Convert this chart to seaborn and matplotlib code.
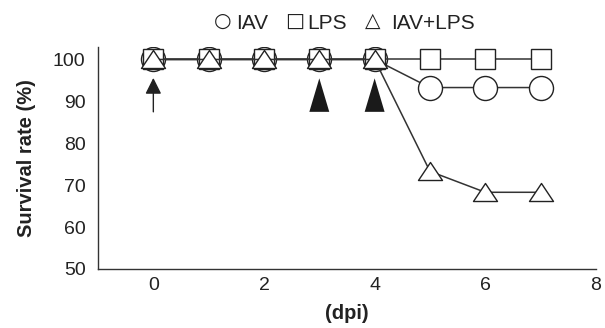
import matplotlib
matplotlib.use("Agg")
import matplotlib.pyplot as plt
from matplotlib.path import Path
import seaborn as sns
import pandas as pd

dpi_days = [0, 1, 2, 3, 4, 5, 6, 7]
iav = [100, 100, 100, 100, 100, 93.3, 93.3, 93.3]
lps = [100, 100, 100, 100, 100, 100, 100, 100]
iav_lps = [100, 100, 100, 100, 100, 73.3, 68.3, 68.3]
x_ticks = [0, 2, 4, 6, 8]
y_ticks = [50, 60, 70, 80, 90, 100]
lps_injection_days = [3, 4]
infection_day = 0
legend_symbols = ["\u25cb", "\u25a1", "\u25b3"]
legend_words = ["IAV", "LPS", "IAV+LPS"]

sns.set_theme(style="white")
plt.rcParams['font.family'] = ['Liberation Sans', 'DejaVu Sans']

W, H = 605, 328
fig = plt.figure(figsize=(6.05, 3.28), dpi=100)
ax = fig.add_axes([0.162, 0.180, 0.823, 0.677])

df = pd.DataFrame({
    "day": dpi_days * 3,
    "survival": iav + lps + iav_lps,
    "group": ["IAV"] * 8 + ["LPS"] * 8 + ["IAV+LPS"] * 8,
})

tri = Path([(0, 0.75), (-1, -0.75), (1, -0.75), (0, 0.75)], closed=True)
styles = {
    "IAV": dict(marker="o", ms=17.3),
    "LPS": dict(marker="s", ms=13.7),
    "IAV+LPS": dict(marker=tri, ms=17.3),
}
for g in ["IAV", "LPS", "IAV+LPS"]:
    sub = df[df.group == g]
    sns.lineplot(data=sub, x="day", y="survival", ax=ax, color="#333333",
                 linewidth=1.1, marker=styles[g]["marker"],
                 markersize=styles[g]["ms"], markerfacecolor="white",
                 markeredgecolor="#222222", markeredgewidth=1.0,
                 legend=False, zorder=3)

# arrow at infection day
ax.annotate("", xy=(infection_day, 95.6), xytext=(infection_day, 87.5),
            arrowprops=dict(arrowstyle="-|>,head_length=0.7,head_width=0.35",
                            color="#222222", lw=1.0,
                            mutation_scale=14, shrinkA=0, shrinkB=0))
# filled triangles at LPS injection days
for d in lps_injection_days:
    ax.fill([d - 0.18, d, d + 0.18], [87.5, 95.5, 87.5], color="#1a1a1a",
            zorder=2, lw=0)

ax.set_xlim(-1, 8)
ax.set_ylim(50, 103)
ax.set_xticks(x_ticks)
ax.set_xticks([1, 3, 5, 7], minor=True)
ax.set_yticks(y_ticks)
ax.tick_params(axis="both", which="both", direction="in", length=12.5,
               width=1.0, color="#333333", labelsize=14, labelcolor="#222222")
ax.tick_params(axis="x", which="both", pad=6)
ax.tick_params(axis="y", pad=9)

for s in ["top", "right"]:
    ax.spines[s].set_visible(False)
for s in ["left", "bottom"]:
    ax.spines[s].set_color("#333333")
    ax.spines[s].set_linewidth(1.0)

ax.set_xlabel("(dpi)", fontsize=14.5, fontweight="bold", labelpad=7, color="#222222")
ax.set_ylabel("Survival rate (%)", fontsize=14.5, fontweight="bold", labelpad=12, color="#222222")

# header legend made of text pieces
sym_x = [222.5, 295, 372.5]
word_x = [236, 307, 391]
for sx, wx, s, w in zip(sym_x, word_x, legend_symbols, legend_words):
    fig.text(sx / W, 1 - 21 / H, s, ha="center", va="center", fontsize=14.5,
             color="#222222", family=["DejaVu Sans"])
    fig.text(wx / W, 1 - 29 / H, w, ha="left", va="baseline", fontsize=15,
             color="#222222")

fig.savefig("out.png", dpi=100)
